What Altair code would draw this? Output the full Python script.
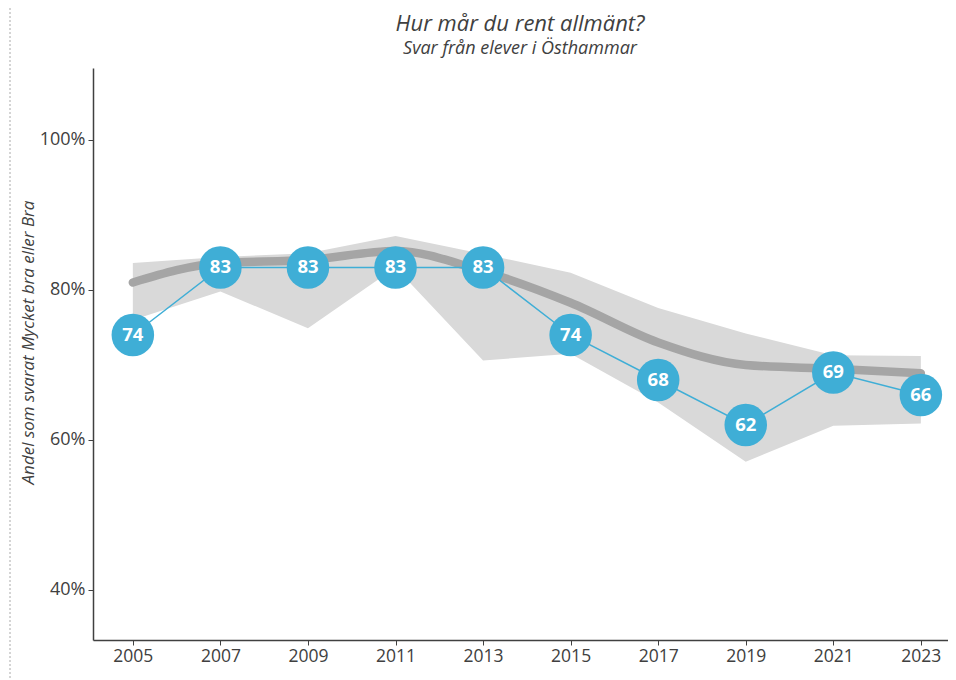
import altair as alt
import pandas as pd

# ---- data ----
years = [2005, 2007, 2009, 2011, 2013, 2015, 2017, 2019, 2021, 2023]
share = [74, 83, 83, 83, 83, 74, 68, 62, 69, 66]          # Östhammar (blue)
mean_all = [81.0, 83.6, 84.0, 85.2, 82.5, 78.3, 73.0, 70.0, 69.5, 68.9]  # grey line
band_low = [76.0, 79.8, 74.9, 83.0, 70.6, 71.5, 65.0, 57.1, 61.9, 62.2]   # grey band min
band_high = [83.6, 84.4, 84.9, 87.2, 84.8, 82.3, 77.6, 74.2, 71.3, 71.2]  # grey band max
pct_ticks = [40, 60, 80, 100]
title_text = "Hur mår du rent allmänt?"
subtitle_text = "Svar från elever i Östhammar"

df = pd.DataFrame({
    "year": years,
    "share": share,
    "mean": mean_all,
    "low": band_low,
    "high": band_high,
})

BLUE = "#3FAED6"
TXT = "#404040"
FONT = "Open Sans"
YTITLE = "Andel som svarat Mycket bra eller Bra"

xscale = alt.Scale(domain=[2004.09, 2023.62], nice=False, zero=False)
yscale = alt.Scale(domain=[33.33, 109.6], nice=False, zero=False)

xaxis = alt.Axis(values=years, format="d", title=None, grid=False,
                 labelFont=FONT, labelFontSize=17.5, labelColor=TXT,
                 domainColor=TXT, domainWidth=1.5, tickColor=TXT, tickSize=5,
                 labelPadding=2, labelFlush=False)
yaxis = alt.Axis(values=pct_ticks, labelExpr="datum.value + '%'", grid=False,
                 title=YTITLE, titleFont=FONT, titleFontStyle="italic",
                 titleFontWeight="normal", titleFontSize=17, titleColor=TXT,
                 titleAngle=-90, titleX=-65, titleY=274, titleAlign="center",
                 titleBaseline="middle",
                 labelFont=FONT, labelFontSize=18, labelColor=TXT,
                 domainColor=TXT, domainWidth=1.5, tickColor=TXT, tickSize=5,
                 labelPadding=3)

X = alt.X("year:Q", scale=xscale, axis=xaxis)

def Y(field):
    return alt.Y(field, scale=yscale, axis=yaxis, title=YTITLE)

base = alt.Chart(df)

band = base.mark_area(color="#D9D9D9", opacity=1).encode(
    x=X, y=Y("low:Q"), y2="high:Q")

mean_line = base.mark_line(color="#A5A5A5", strokeWidth=8.5, strokeCap="round",
                           interpolate="monotone").encode(x=X, y=Y("mean:Q"))

blue_line = base.mark_line(color=BLUE, strokeWidth=1.5).encode(x=X, y=Y("share:Q"))

dots = base.mark_circle(size=1810, color=BLUE, opacity=1).encode(x=X, y=Y("share:Q"))

labels = base.mark_text(font=FONT, fontWeight="bold", fontSize=18.5, color="white",
                        baseline="middle", align="center").encode(
    x=X, y=Y("share:Q"), text="share:Q")

one = pd.DataFrame({"a": [0]})

border = alt.Chart(one).mark_rule(
    color="#AAAAAA", strokeWidth=1, strokeDash=[2, 2]).encode(
    x=alt.value(-83), y=alt.value(-60), y2=alt.value(612))

title_mark = alt.Chart(one).mark_text(
    text=title_text, font=FONT, fontSize=22, fontStyle="italic", color=TXT,
    align="center", baseline="middle").encode(x=alt.value(427), y=alt.value(-44))

subtitle_mark = alt.Chart(one).mark_text(
    text=subtitle_text, font=FONT, fontSize=18, fontStyle="italic", color=TXT,
    align="center", baseline="middle").encode(x=alt.value(427), y=alt.value(-19))

chart = alt.layer(border, title_mark, subtitle_mark, band, mean_line, blue_line,
                  dots, labels).properties(
    width=855, height=572,
    autosize=alt.AutoSizeParams(type="none"),
    padding={"left": 85, "top": 60, "right": 0, "bottom": 40},
    background="white",
).configure_view(stroke=None)

chart.save("out.html", embed_options={"renderer": "svg", "actions": False})
